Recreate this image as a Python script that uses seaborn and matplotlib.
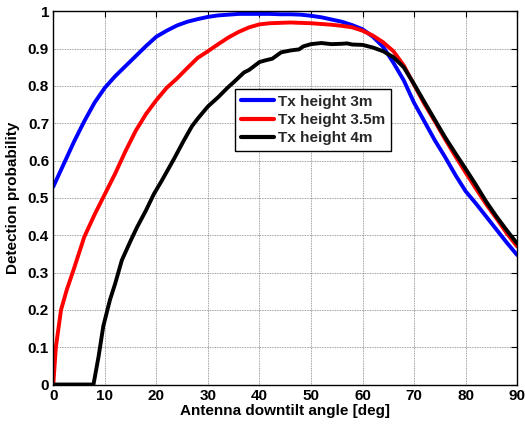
import matplotlib
matplotlib.use("Agg")
import matplotlib.pyplot as plt
import seaborn as sns
import pandas as pd
import numpy as np

# ---- data ----
x_3m = [0, 2, 4, 6, 8, 10, 12, 14, 16, 18, 20, 22, 24, 26, 28, 30, 32, 34, 36, 38, 40,
        42, 44, 46, 48, 50, 52, 54, 56, 58, 60, 62, 64, 66, 68, 70, 72, 74, 76, 78, 80,
        82, 84, 86, 88, 90]
p_3m = [0.53, 0.59, 0.65, 0.705, 0.755, 0.795, 0.826, 0.853, 0.88, 0.907, 0.932, 0.948,
        0.962, 0.972, 0.979, 0.985, 0.989, 0.991, 0.993, 0.993, 0.993, 0.993, 0.992,
        0.992, 0.991, 0.988, 0.984, 0.978, 0.972, 0.963, 0.952, 0.932, 0.905, 0.862,
        0.815, 0.755, 0.705, 0.655, 0.61, 0.562, 0.518, 0.485, 0.45, 0.415, 0.38, 0.347]

x_35m = [0, 0.5, 1.5, 2.6, 4, 6, 8, 10, 12, 14, 16, 18, 20, 22, 24, 26, 28, 30, 32, 34,
         36, 38, 40, 42, 44, 46, 48, 50, 52, 54, 56, 58, 60, 62, 64, 66, 68, 70, 72, 74,
         76, 78, 80, 82, 84, 86, 88, 90]
p_35m = [0.0, 0.1, 0.2, 0.253, 0.31, 0.395, 0.455, 0.51, 0.565, 0.625, 0.68, 0.725,
         0.762, 0.795, 0.82, 0.848, 0.875, 0.893, 0.912, 0.93, 0.945, 0.957, 0.965,
         0.968, 0.969, 0.970, 0.969, 0.968, 0.966, 0.964, 0.961, 0.957, 0.948, 0.935,
         0.917, 0.893, 0.855, 0.803, 0.752, 0.706, 0.658, 0.612, 0.568, 0.525, 0.483,
         0.445, 0.405, 0.37]

x_4m = [0, 7.8, 8.8, 9.7, 11, 12, 13.3, 15, 16.2, 18, 19.5, 21, 23.4, 25.3, 26.9, 28, 30,
        32, 33.8, 35, 37, 38, 40, 41, 42.5, 44.2, 46, 47.7, 48.5, 50, 52, 54, 56, 57, 58,
        60, 62, 64, 66, 68, 70, 72, 74, 76, 78, 80, 82, 84, 86, 88, 90]
p_4m = [0, 0, 0.076, 0.156, 0.227, 0.27, 0.333, 0.385, 0.42, 0.467, 0.51, 0.545, 0.604,
        0.653, 0.692, 0.712, 0.745, 0.77, 0.795, 0.81, 0.836, 0.843, 0.864, 0.868, 0.873,
        0.89, 0.895, 0.898, 0.906, 0.912, 0.915, 0.912, 0.913, 0.914, 0.911, 0.91, 0.903,
        0.893, 0.877, 0.85, 0.805, 0.757, 0.71, 0.663, 0.62, 0.578, 0.535, 0.49, 0.45,
        0.413, 0.378]

labels = ["Tx height 3m", "Tx height 3.5m", "Tx height 4m"]
colors = ["#0000ff", "#ff0000", "#000000"]
x_ticks = [0, 10, 20, 30, 40, 50, 60, 70, 80, 90]
y_ticks = [0, 0.1, 0.2, 0.3, 0.4, 0.5, 0.6, 0.7, 0.8, 0.9, 1]
y_ticklabels = ["0", "0.1", "0.2", "0.3", "0.4", "0.5", "0.6", "0.7", "0.8", "0.9", "1"]

frames = []
for xs, ps, lab in zip([x_3m, x_35m, x_4m], [p_3m, p_35m, p_4m], labels):
    frames.append(pd.DataFrame({"angle": xs, "prob": ps, "series": lab}))
df = pd.concat(frames, ignore_index=True)

sns.set_theme(style="white")
plt.rcParams["font.family"] = ["Liberation Sans", "DejaVu Sans"]
plt.rcParams["font.weight"] = "bold"

fig = plt.figure(figsize=(5.25, 4.28), dpi=100)
ax = fig.add_axes([0.1015, 0.1016, 0.8835, 0.872])

sns.lineplot(data=df, x="angle", y="prob", hue="series", hue_order=labels,
             palette=colors, linewidth=2.8, sort=False, estimator=None, ax=ax)

ax.set_xlim(0, 90)
ax.set_ylim(0, 1)
ax.set_xticks(x_ticks)
ax.set_yticks(y_ticks)
ax.set_yticklabels(y_ticklabels)
ax.grid(True, color="#808080", linestyle=(0, (1, 1)), linewidth=0.6)
ax.set_axisbelow(True)

for s in ax.spines.values():
    s.set_visible(True)
    s.set_color("black")
    s.set_linewidth(1.0)

ax.tick_params(axis="both", direction="in", length=4, width=0.8, color="black",
               top=True, right=True, labelsize=11, pad=3, labelcolor="black")
for lab in ax.get_xticklabels() + ax.get_yticklabels():
    lab.set_fontweight("bold")

ax.set_xlabel("Antenna downtilt angle [deg]", fontsize=11, fontweight="bold",
              labelpad=1, color="black")
ax.set_ylabel("Detection probability", fontsize=11, fontweight="bold",
              labelpad=6, color="black")

leg = ax.legend(loc="upper left", bbox_to_anchor=(0.392, 0.792), borderaxespad=0,
                frameon=True, fancybox=False, framealpha=1, edgecolor="black",
                prop={"weight": "bold", "size": 11}, handlelength=2.15,
                labelspacing=0.28, borderpad=0.38, handletextpad=0.3)
leg.get_frame().set_linewidth(1.0)
for line in leg.get_lines():
    line.set_linewidth(3)
leg.set_title(None)

fig.savefig("out.png", dpi=100)
